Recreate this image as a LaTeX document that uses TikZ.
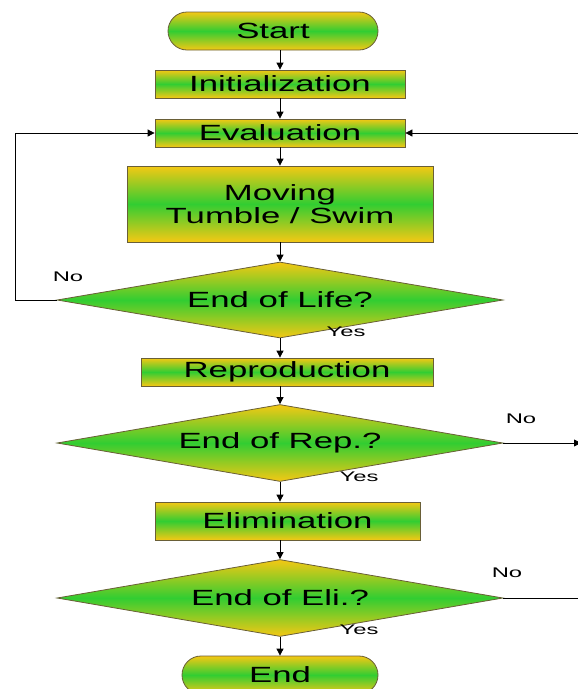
\documentclass[tikz,border=0pt]{standalone}
\usepackage{fontspec}
\setmainfont{Liberation Sans}
\usepackage{graphicx}
\usetikzlibrary{arrows.meta,shapes.geometric,shapes.misc}
\definecolor{fcyel}{RGB}{245,200,20}
\definecolor{fcgrn}{RGB}{50,205,50}
\definecolor{fcedge}{RGB}{105,95,55}
\newcommand{\bigtxt}[1]{\scalebox{1.58}[1]{#1}}
\newcommand{\smalltxt}[1]{\scalebox{1.7}[1]{#1}}
\begin{document}
\begin{tikzpicture}[x=1pt,y=-1pt,
  grad/.style={draw=fcedge, line width=0.8pt, top color=fcyel, bottom color=fcyel, middle color=fcgrn, inner sep=0pt, font=\fontsize{22}{23}\selectfont, align=center},
  box/.style={grad, rectangle},
  term/.style={grad, rounded rectangle},
  dec/.style={grad, diamond, aspect=5.87},
  lbl/.style={font=\fontsize{14}{16}\selectfont, inner sep=0pt},
  conn/.style={black, line width=0.8pt, -{Triangle[length=7pt,width=7pt]}},
  plain/.style={black, line width=0.8pt}]
\useasboundingbox (0,0) rectangle (578,689);

\node[term, minimum width=210pt, minimum height=38pt] (start) at (273,31) {\bigtxt{Start}};
\node[box, minimum width=250pt, minimum height=28pt] (init) at (280,84) {\bigtxt{Initialization}};
\node[box, minimum width=250pt, minimum height=28pt] (eval) at (280,133) {\bigtxt{Evaluation}};
\node[box, minimum width=306pt, minimum height=76pt] (move) at (280,204) {\bigtxt{Moving}\\\bigtxt{Tumble / Swim}};
\node[dec, minimum width=446pt, minimum height=76pt] (eol) at (280,300) {\bigtxt{End of Life?}};
\node[box, minimum width=292pt, minimum height=28pt] (repro) at (287,372) {\bigtxt{Reproduction}};
\node[dec, minimum width=446pt, minimum height=77pt] (eor) at (280,443) {\bigtxt{End of Rep.?}};
\node[box, minimum width=265pt, minimum height=38pt] (elim) at (287.5,521) {\bigtxt{Elimination}};
\node[dec, minimum width=446pt, minimum height=77pt] (eoe) at (280,598) {\bigtxt{End of Eli.?}};
\node[term, minimum width=196pt, minimum height=38pt] (end) at (280,675) {\bigtxt{End}};

\node[lbl] (no1) at (68,277) {\smalltxt{No}};
\node[lbl] (yes1) at (346,332) {\smalltxt{Yes}};
\node[lbl] (no2) at (521,419) {\smalltxt{No}};
\node[lbl] (yes2) at (359,477) {\smalltxt{Yes}};
\node[lbl] (no3) at (507,573) {\smalltxt{No}};
\node[lbl] (yes3) at (359,630) {\smalltxt{Yes}};

\coordinate (lcorner1) at (15,300);
\coordinate (lcorner2) at (15,133);
\coordinate (rin) at (580,133);
\coordinate (rout2) at (581,443);
\coordinate (rout3) at (580,598);

\draw[conn] (init.north |- start.south) -- (init.north);
\draw[conn] (init) -- (eval);
\draw[conn] (eval) -- (move);
\draw[conn] (move) -- (eol);
\draw[conn] (eol.south) -- (eol.south |- repro.north);
\draw[conn] (eor.north |- repro.south) -- (eor.north);
\draw[conn] (eor.south) -- (eor.south |- elim.north);
\draw[conn] (eoe.north |- elim.south) -- (eoe.north);
\draw[conn] (eoe) -- (end);
\draw[conn] (eol.west) -- (lcorner1) -- (lcorner2) -- (eval.west);
\draw[conn] (rin) -- (eval.east);
\draw[conn] (eor.east) -- (rout2);
\draw[plain] (eoe.east) -- (rout3);
\end{tikzpicture}
\end{document}
